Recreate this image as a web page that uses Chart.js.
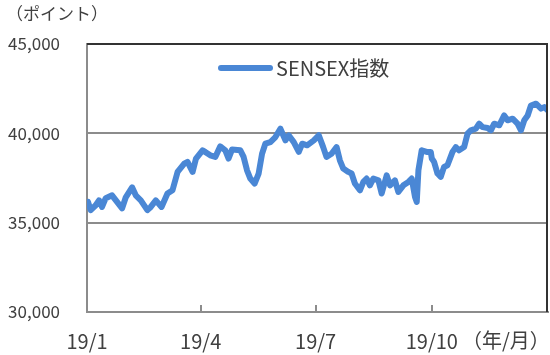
<!DOCTYPE html>
<html>
<head>
<meta charset="utf-8">
<script src="https://cdn.jsdelivr.net/npm/chart.js@4/dist/chart.umd.min.js"></script>
<style>
html,body{margin:0;padding:0;background:#fff;}
#wrap{position:relative;width:550px;height:355px;}
</style>
</head>
<body>
<div id="wrap"><canvas id="c" width="550" height="355"></canvas></div>
<script>
// Day offset from 2019-01-01
const days = [0.8,2.9,6.9,9.5,11.9,14.8,19.8,23.8,27.8,30.7,35.7,38.6,42.6,47.8,50.5,54.5,59,63.7,67.7,71.7,77,79.6,83.6,86.3,91.5,93.6,97.6,101.6,105.5,109.5,112.1,114.8,121.4,124,126.7,129.3,132.7,135.9,138.6,141.2,145.2,149.2,153.1,157.1,159.7,163.7,167.7,170.4,174.3,179.6,183.5,187,189.6,193.6,197.6,200.2,202.9,206.9,209.5,212.1,216.1,218.8,221.4,224,226.7,230.7,233.3,237.3,239.9,243.8,246.5,250.5,254.5,257.1,259.7,261.1,262.4,265,269,272.2,273,274.8,277.5,280.1,282.7,285.4,289.4,292,294.6,298.6,301.3,303.9,307.9,310.5,313.2,317.2,319.8,322.4,326.4,330.3,333,337,340.9,343.6,346.2,348.9,351.5,355.5,359.5,362.1,364.8];
const sensex = [36160,35700,35975,36250,35880,36370,36530,36160,35800,36420,36980,36530,36250,35700,35880,36250,35880,36630,36810,37840,38300,38400,37840,38590,39050,38960,38770,38680,39270,39050,38590,39090,39050,38680,37930,37470,37190,37750,38860,39420,39510,39790,40260,39610,39890,39510,38960,39420,39330,39610,39890,39230,38680,38860,39230,38490,38030,37840,37750,37190,36810,37280,37470,37090,37470,37370,36630,37650,37090,37370,36720,37090,37280,37470,36440,36160,37930,39050,38960,38960,38590,38400,37750,37560,38120,38210,38960,39230,39050,39230,39980,40170,40260,40540,40350,40300,40170,40540,40450,41000,40730,40820,40540,40170,40730,41000,41560,41660,41380,41470,41290];
const tickDays = [0, 90, 181, 273];
const tickLabels = ['19/1', '19/4', '19/7', '19/10'];
const seriesName = 'SENSEX指数';
const yTitle = '（ポイント）';
const xTitle = '（年/月）';

const FONT = '"Noto Sans CJK JP", "Noto Sans", sans-serif';
const TXT = '#404040';
const LINE = '#4a87d5';
const GRID = '#8c8c8c';

const decor = {
  id: 'decor',
  afterDraw(chart) {
    const {ctx, chartArea: a, scales} = chart;
    ctx.save();
    // top & right dark border
    ctx.strokeStyle = '#333333';
    ctx.lineWidth = 2;
    ctx.beginPath();
    ctx.moveTo(a.left, a.top);
    ctx.lineTo(a.right - 1, a.top);
    ctx.lineTo(a.right - 1, a.bottom);
    ctx.stroke();
    // inner tick marks
    ctx.strokeStyle = GRID;
    ctx.lineWidth = 2;
    tickDays.forEach((d, i) => {
      if (i === 0) return;
      const x = Math.round(scales.x.getPixelForValue(d));
      ctx.beginPath();
      ctx.moveTo(x, a.bottom);
      ctx.lineTo(x, a.bottom - 7);
      ctx.stroke();
    });
    // legend (inside plot area)
    const ds = chart.data.datasets[0];
    ctx.strokeStyle = ds.borderColor;
    ctx.lineWidth = 6;
    ctx.lineCap = 'round';
    ctx.beginPath();
    ctx.moveTo(221, 68);
    ctx.lineTo(270, 68);
    ctx.stroke();
    ctx.fillStyle = TXT;
    ctx.textBaseline = 'middle';
    ctx.textAlign = 'left';
    ctx.font = '20px ' + FONT;
    ctx.fillText(ds.label, 276, 68);
    // titles
    ctx.font = '17px ' + FONT;
    ctx.fillText(yTitle, 6, 14);
    ctx.font = '20px ' + FONT;
    ctx.fillText(xTitle, 462, 340);
    ctx.restore();
  }
};

new Chart(document.getElementById('c'), {
  type: 'line',
  data: {
    datasets: [{
      label: seriesName,
      data: days.map((d, i) => ({x: d, y: sensex[i]})),
      borderColor: LINE,
      backgroundColor: LINE,
      borderWidth: 6,
      pointRadius: 0,
      tension: 0,
      borderJoinStyle: 'round',
      borderCapStyle: 'round'
    }]
  },
  options: {
    responsive: false,
    animation: false,
    devicePixelRatio: 1,
    layout: {padding: {top: 44, right: 2, left: 0, bottom: 0}},
    plugins: {
      title: {display: false},
      tooltip: {enabled: false},
      legend: {display: false}
    },
    scales: {
      x: {
        type: 'linear',
        min: 0,
        max: 365,
        afterBuildTicks(s) { s.ticks = tickDays.map(v => ({value: v})); },
        afterFit(s) { s.height = 43; },
        grid: {display: false, drawTicks: false},
        border: {display: true, color: GRID, width: 2},
        ticks: {
          autoSkip: false,
          maxRotation: 0,
          padding: 17,
          color: TXT,
          font: {size: 20, family: FONT},
          callback(v) { const i = tickDays.indexOf(v); return i >= 0 ? tickLabels[i] : ''; }
        }
      },
      y: {
        min: 30000,
        max: 45000,
        afterFit(s) { s.width = 87; },
        grid: {
          drawTicks: false,
          lineWidth: 2,
          color: c => (c.tick && (c.tick.value === 45000 || c.tick.value === 30000)) ? 'rgba(0,0,0,0)' : GRID
        },
        border: {display: true, color: GRID, width: 2},
        ticks: {
          stepSize: 5000,
          padding: 27,
          color: TXT,
          font: {size: 17, family: FONT},
          callback: v => v.toLocaleString('en-US')
        }
      }
    }
  },
  plugins: [decor]
});
</script>
</body>
</html>
